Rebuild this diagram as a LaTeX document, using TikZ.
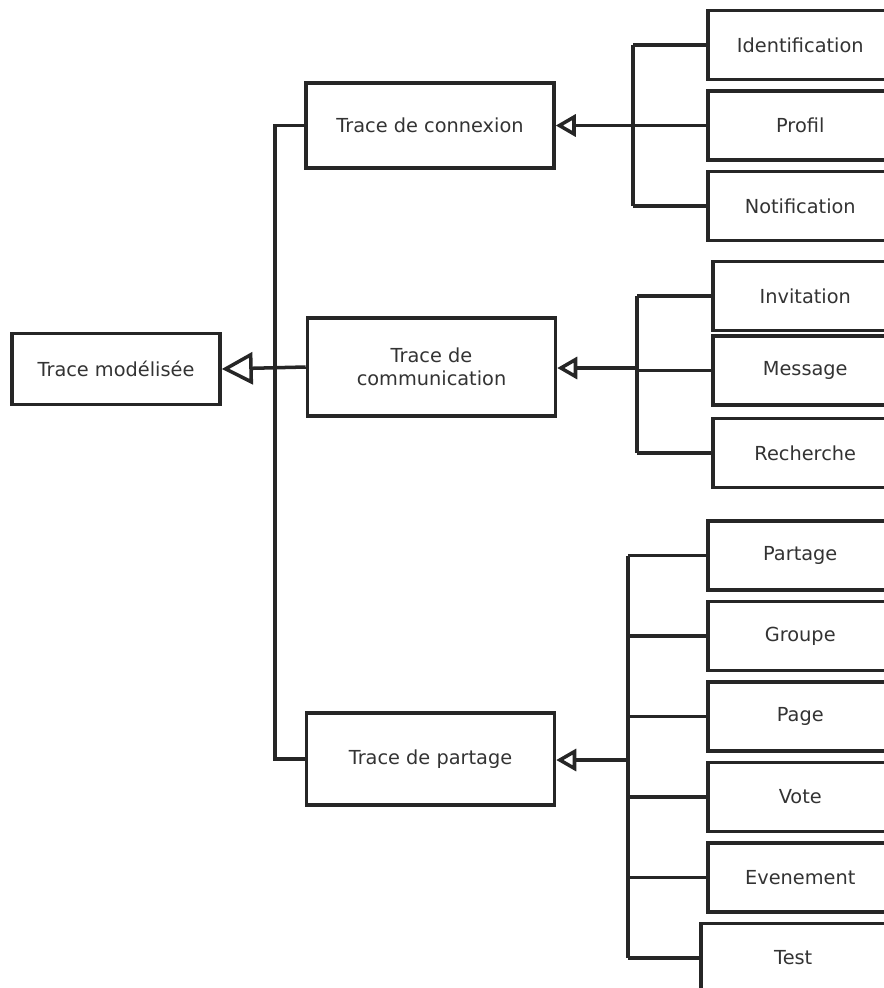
\documentclass[tikz,border=0pt]{standalone}
\usepackage{fontspec}
\setmainfont{DejaVu Sans}
\usetikzlibrary{arrows.meta,positioning}

\begin{document}
\begin{tikzpicture}[line width=2pt,color=black!85,
    >={Triangle[open,length=0.4cm,width=0.44cm]},node distance=0.16cm,
    box/.style={draw,rectangle,line width=2pt,align=center,
                font=\fontsize{11}{13}\selectfont,text=black!80},
    trace node/.style={box,minimum width=4.96cm},
    leaf node/.style={box,minimum width=3.7cm,minimum height=1.38cm}]
  \useasboundingbox (0,0) rectangle (17.68,-19.76);

  \node[box,minimum width=4.16cm,minimum height=1.42cm] (model) at (2.32,-7.38) {Trace modélisée};
  \node[trace node,minimum height=1.7cm] (conn) at (8.6,-2.51) {Trace de connexion};
  \node[trace node,minimum height=1.96cm] (comm) at (8.63,-7.34) {Trace de\\communication};
  \node[trace node,minimum height=1.84cm] (part) at (8.61,-15.18) {Trace de partage};

  % connexion
  \node[leaf node,anchor=west] (ident) at (14.12,-0.9) {Identification};
  \node[leaf node,below=of ident] (profil) {Profil};
  \node[leaf node,below=of profil] (notif) {Notification};

  % communication
  \node[leaf node,anchor=west] (invit) at (14.22,-5.92) {Invitation};
  \node[leaf node,below=0.04cm of invit] (message) {Message};
  \node[leaf node,below=0.2cm of message] (recherche) {Recherche};

  % partage
  \node[leaf node,anchor=west] (partage) at (14.12,-11.11) {Partage};
  \node[leaf node,below=of partage] (groupe) {Groupe};
  \node[leaf node,below=of groupe] (page) {Page};
  \node[leaf node,below=of page] (vote) {Vote};
  \node[leaf node,below=of vote] (event) {Evenement};
  \node[leaf node,below=of event,xshift=-0.14cm] (test) {Test};

  \coordinate (trunk) at (5.5,-7.38);
  \coordinate (connbar) at (12.66,-2.51);
  \coordinate (commbar) at (12.74,-7.36);
  \coordinate (partbar) at (12.56,-15.2);

  % tronc
  \draw (conn.west) -| (trunk) |- (part.west);
  \draw[-{Triangle[open,length=0.62cm,width=0.64cm]}] (comm.west) -- (model.east);

  % barres
  \draw (connbar |- ident.west) -- (connbar |- notif.west);
  \draw (commbar |- invit.west) -- (commbar |- recherche.west);
  \draw (partbar |- partage.west) -- (partbar |- test.west);

  \foreach \n in {ident,profil,notif}
    \draw (connbar |- \n.west) -- (\n.west);
  \foreach \n in {invit,message,recherche}
    \draw (commbar |- \n.west) -- (\n.west);
  \foreach \n in {partage,groupe,page,vote,event,test}
    \draw (partbar |- \n.west) -- (\n.west);

  \draw[->] (connbar) -- (connbar -| conn.east);
  \draw[->] (commbar) -- (commbar -| comm.east);
  \draw[->] (partbar) -- (partbar -| part.east);
\end{tikzpicture}
\end{document}
